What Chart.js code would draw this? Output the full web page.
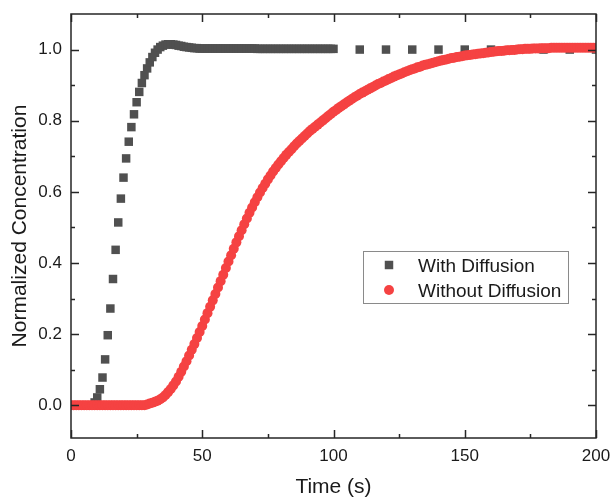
<!DOCTYPE html>
<html>
<head>
<meta charset="utf-8">
<script src="https://cdn.jsdelivr.net/npm/chart.js@4.4.1/dist/chart.umd.min.js"></script>
<style>
  html, body { margin: 0; padding: 0; background: #ffffff; }
  #wrap { width: 610px; height: 500px; position: relative; }
</style>
</head>
<body>
<div id="wrap"><canvas id="c" width="610" height="500"></canvas></div>
<script>
// ---------- data ----------
const seriesNames = ['With Diffusion', 'Without Diffusion'];

const timeWith = [
  0,1,2,3,4,5,6,7,8,9,
  10,11,12,13,14,15,16,17,18,19,
  20,21,22,23,24,25,26,27,28,29,
  30,31,32,33,34,35,36,37,38,39,
  40,41,42,43,44,45,46,47,48,49,
  50,51,52,53,54,55,56,57,58,59,
  60,61,62,63,64,65,66,67,68,69,
  70,71,72,73,74,75,76,77,78,79,
  80,81,82,83,84,85,86,87,88,89,
  90,91,92,93,94,95,96,97,98,99,
  100,110,120,130,140,150,160,170,180,190,200
];
const concWith = [
  0,0,0,0,0,0,0,0,0,0.008,
  0.022,0.045,0.078,0.129,0.197,0.272,0.355,0.437,0.514,0.581,
  0.640,0.694,0.741,0.782,0.818,0.852,0.881,0.906,0.928,0.947,
  0.964,0.979,0.991,1.000,1.007,1.011,1.014,1.015,1.015,1.014,
  1.013,1.011,1.010,1.008,1.007,1.006,1.005,1.004,1.004,1.003,
  1.003,1.003,1.003,1.003,1.003,1.003,1.003,1.003,1.003,1.003,
  1.003,1.003,1.003,1.003,1.003,1.003,1.003,1.003,1.003,1.003,
  1.003,1.002,1.002,1.002,1.002,1.002,1.002,1.002,1.002,1.002,
  1.002,1.002,1.002,1.002,1.002,1.002,1.002,1.002,1.002,1.002,
  1.002,1.002,1.002,1.002,1.002,1.002,1.002,1.002,1.002,1.002,
  1.002,1.000,1.000,1.000,1.000,1.000,1.000,1.000,1.000,1.000,1.000
];

const timeWithout = [
  0,1,2,3,4,5,6,7,8,9,
  10,11,12,13,14,15,16,17,18,19,
  20,21,22,23,24,25,26,27,28,29,
  30,31,32,33,34,35,36,37,38,39,
  40,41,42,43,44,45,46,47,48,49,
  50,51,52,53,54,55,56,57,58,59,
  60,61,62,63,64,65,66,67,68,69,
  70,71,72,73,74,75,76,77,78,79,
  80,81,82,83,84,85,86,87,88,89,
  90,91,92,93,94,95,96,97,98,99,
  100,101,102,103,104,105,106,107,108,109,
  110,111,112,113,114,115,116,117,118,119,
  120,121,122,123,124,125,126,127,128,129,
  130,131,132,133,134,135,136,137,138,139,
  140,141,142,143,144,145,146,147,148,149,
  150,151,152,153,154,155,156,157,158,159,
  160,161,162,163,164,165,166,167,168,169,
  170,171,172,173,174,175,176,177,178,179,
  180,181,182,183,184,185,186,187,188,189,
  190,191,192,193,194,195,196,197,198,199,
  200
];
const concWithout = [
  0,0,0,0,0,0,0,0,0,0,
  0,0,0,0,0,0,0,0,0,0,
  0,0,0,0,0,0,0,0,0,0.002,
  0.005,0.007,0.010,0.013,0.017,0.022,0.029,0.037,0.046,0.056,
  0.067,0.080,0.094,0.109,0.124,0.140,0.156,0.172,0.189,0.206,
  0.223,0.241,0.259,0.277,0.295,0.313,0.331,0.349,0.367,0.386,
  0.404,0.422,0.440,0.458,0.475,0.492,0.509,0.525,0.541,0.556,
  0.571,0.585,0.598,0.611,0.623,0.635,0.646,0.657,0.667,0.677,
  0.686,0.695,0.704,0.712,0.720,0.728,0.736,0.743,0.750,0.757,
  0.764,0.771,0.777,0.783,0.789,0.795,0.801,0.807,0.813,0.819,
  0.825,0.830,0.836,0.841,0.846,0.851,0.856,0.861,0.866,0.870,
  0.875,0.879,0.883,0.887,0.891,0.895,0.899,0.903,0.906,0.910,
  0.913,0.917,0.920,0.924,0.927,0.930,0.933,0.936,0.939,0.942,
  0.945,0.947,0.950,0.952,0.955,0.957,0.959,0.961,0.963,0.965,
  0.967,0.969,0.971,0.972,0.974,0.976,0.977,0.979,0.980,0.981,
  0.983,0.984,0.985,0.986,0.987,0.988,0.989,0.990,0.991,0.992,
  0.993,0.994,0.995,0.996,0.996,0.997,0.998,0.998,0.999,0.999,
  1.000,1.001,1.001,1.002,1.002,1.002,1.003,1.003,1.003,1.004,
  1.004,1.004,1.004,1.005,1.005,1.005,1.005,1.005,1.005,1.005,
  1.005,1.005,1.005,1.005,1.005,1.005,1.005,1.005,1.005,1.005,
  1.005
];

const xMajorTicks = [0, 50, 100, 150, 200];
const xMinorTicks = [25, 75, 125, 175];
const yMajorTicks = [0.0, 0.2, 0.4, 0.6, 0.8, 1.0];
const yMinorTicks = [0.1, 0.3, 0.5, 0.7, 0.9];
const xTitle = 'Time (s)';
const yTitle = 'Normalized Concentration';

// ---------- styling ----------
const FONT = "'Liberation Sans', Arial, sans-serif";
const TEXT = '#1a1a1a';
const AXIS = '#262626';
const COL_WITH = '#505050';
const COL_WITHOUT = '#f54242';

const pts = (xs, ys) => xs.map((x, i) => ({ x: x, y: ys[i] }));

const framePlugin = {
  id: 'frame',
  afterDraw(chart) {
    const ctx = chart.ctx;
    const a = chart.chartArea;
    const xs = chart.scales.x, ys = chart.scales.y;
    ctx.save();
    ctx.strokeStyle = AXIS;
    ctx.lineWidth = 1.5;
    ctx.strokeRect(a.left, a.top, a.right - a.left, a.bottom - a.top);
    ctx.beginPath();
    const tickX = (v, len) => {
      const px = Math.round(xs.getPixelForValue(v)) + 0.5;
      ctx.moveTo(px, a.bottom); ctx.lineTo(px, a.bottom - len);
      ctx.moveTo(px, a.top); ctx.lineTo(px, a.top + len);
    };
    const tickY = (v, len) => {
      const py = Math.round(ys.getPixelForValue(v)) + 0.5;
      ctx.moveTo(a.left, py); ctx.lineTo(a.left + len, py);
      ctx.moveTo(a.right, py); ctx.lineTo(a.right - len, py);
    };
    xMajorTicks.forEach(v => tickX(v, 8));
    xMinorTicks.forEach(v => tickX(v, 4));
    yMajorTicks.forEach(v => tickY(v, 8));
    yMinorTicks.forEach(v => tickY(v, 4));
    ctx.stroke();

    // legend box inside the plot
    const bx = 363, by = 251, bw = 205, bh = 52;
    ctx.strokeStyle = '#8a8a8a';
    ctx.lineWidth = 1;
    ctx.strokeRect(bx + 0.5, by + 0.5, bw, bh);
    const items = [
      { name: seriesNames[0], style: 'rect', color: COL_WITH, r: 6, y: 265 },
      { name: seriesNames[1], style: 'circle', color: COL_WITHOUT, r: 5, y: 290 }
    ];
    items.forEach(it => {
      ctx.fillStyle = it.color;
      ctx.strokeStyle = it.color;
      Chart.helpers.drawPoint(ctx, { pointStyle: it.style, radius: it.r, borderWidth: 0, rotation: 0 }, 389, it.y);
      ctx.fillStyle = TEXT;
      ctx.font = '19px ' + FONT;
      ctx.textAlign = 'left';
      ctx.textBaseline = 'alphabetic';
      ctx.fillText(it.name, 418, it.y + 7);
    });
    ctx.restore();
  }
};

new Chart(document.getElementById('c'), {
  type: 'scatter',
  data: {
    datasets: [
      {
        label: seriesNames[0],
        data: pts(timeWith, concWith),
        pointStyle: 'rect',
        pointRadius: 6,
        pointBorderWidth: 0,
        backgroundColor: COL_WITH,
        borderColor: COL_WITH,
        showLine: false,
        clip: 0,
        order: 1
      },
      {
        label: seriesNames[1],
        data: pts(timeWithout, concWithout),
        pointStyle: 'circle',
        pointRadius: 5,
        pointBorderWidth: 0,
        backgroundColor: COL_WITHOUT,
        borderColor: COL_WITHOUT,
        showLine: false,
        clip: 0,
        order: 0
      }
    ]
  },
  options: {
    responsive: false,
    animation: false,
    devicePixelRatio: 1,
    layout: { padding: { top: 14, right: 14, left: 0, bottom: 0 } },
    plugins: { legend: { display: false }, tooltip: { enabled: false } },
    elements: { point: { hoverRadius: 6 } },
    scales: {
      x: {
        type: 'linear',
        min: 0, max: 200,
        afterBuildTicks: s => { s.ticks = xMajorTicks.map(v => ({ value: v })); },
        afterFit: s => { s.height = 62; s.paddingLeft = 0; s.paddingRight = 0; },
        grid: { display: false, drawTicks: false },
        border: { display: false },
        ticks: { color: TEXT, font: { family: FONT, size: 17 }, padding: 8, maxRotation: 0,
                 callback: v => String(v) },
        title: { display: true, text: xTitle, color: TEXT, font: { family: FONT, size: 21 },
                 padding: { top: 0, bottom: 0 } }
      },
      y: {
        type: 'linear',
        min: -0.092, max: 1.1,
        afterBuildTicks: s => { s.ticks = yMajorTicks.map(v => ({ value: v })); },
        afterFit: s => { s.width = 71; s.paddingTop = 0; s.paddingBottom = 0; },
        grid: { display: false, drawTicks: false },
        border: { display: false },
        ticks: { color: TEXT, font: { family: FONT, size: 17 }, padding: 9,
                 callback: v => Number(v).toFixed(1) },
        title: { display: true, text: yTitle, color: TEXT, font: { family: FONT, size: 21 },
                 padding: { top: 8, bottom: 0 } }
      }
    }
  },
  plugins: [framePlugin]
});
</script>
</body>
</html>
